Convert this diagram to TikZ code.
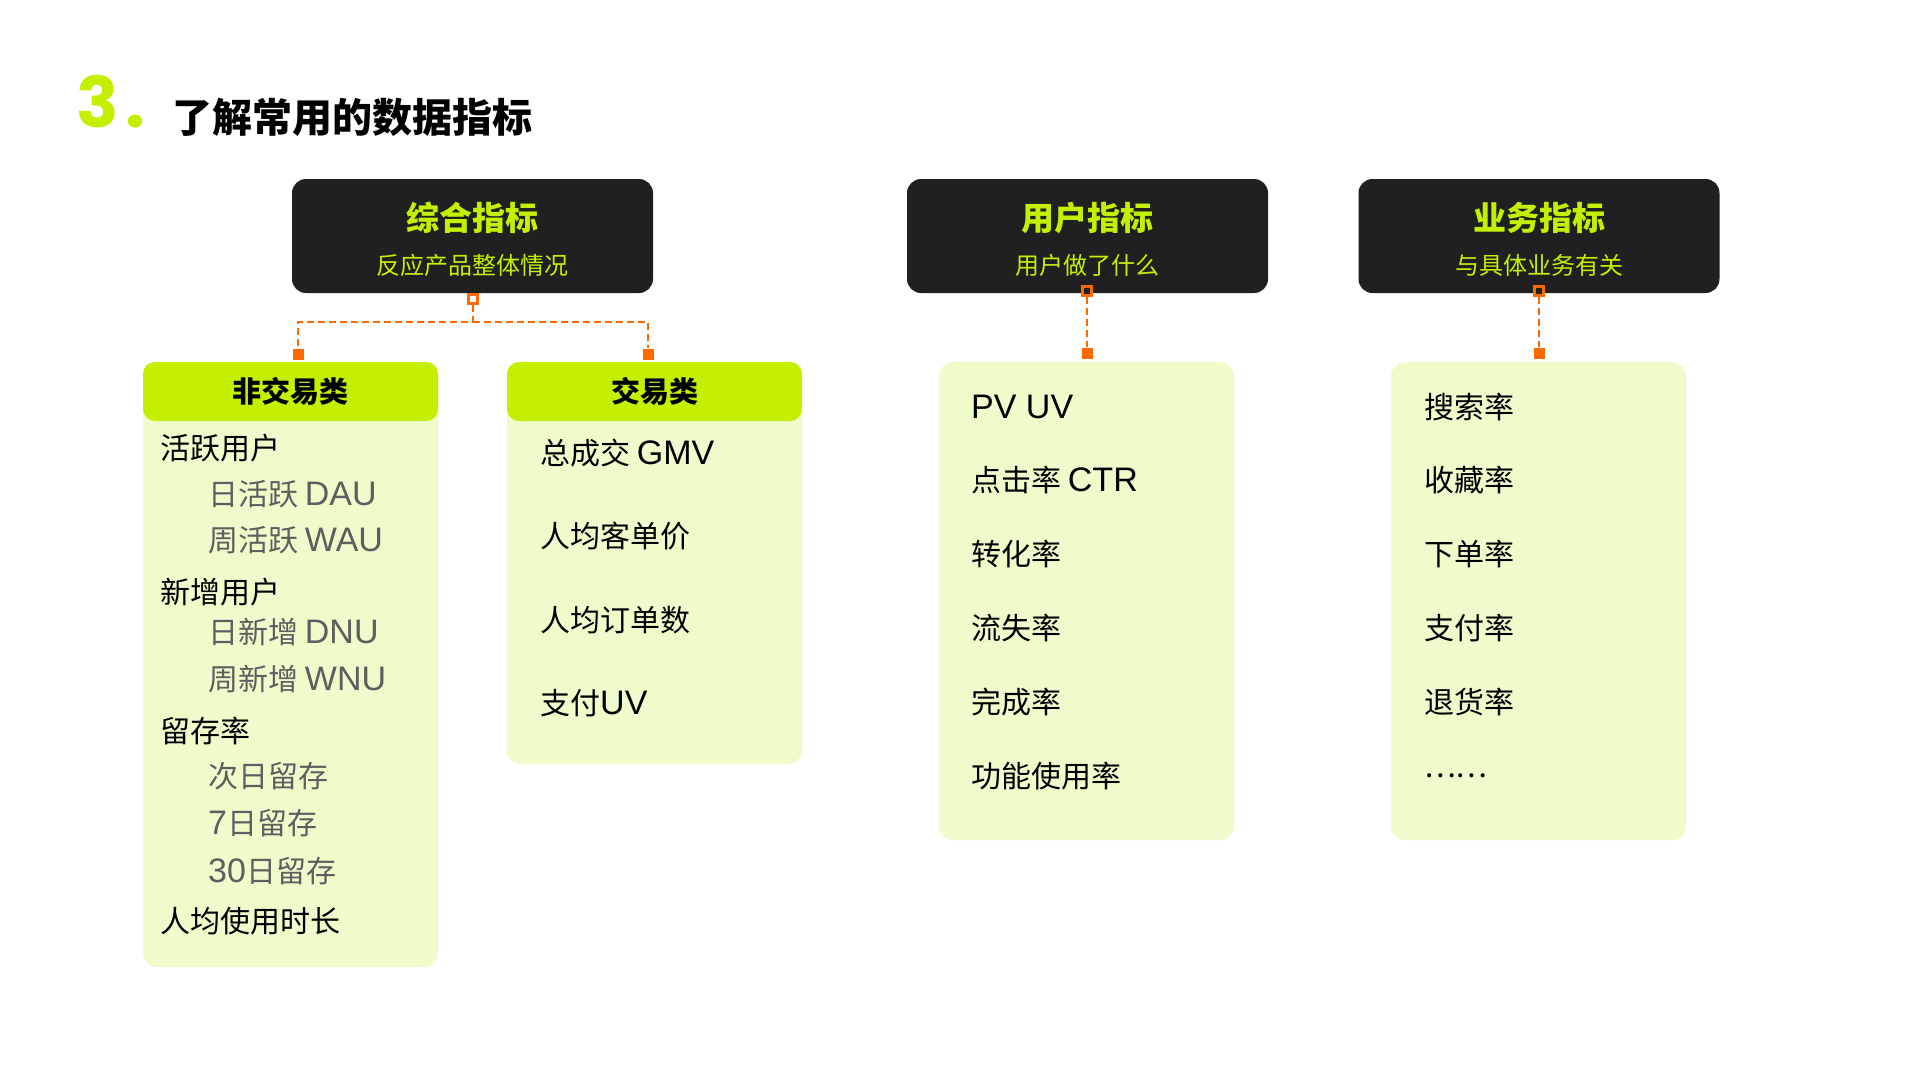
\documentclass[tikz,border=0pt]{standalone}
\usepackage{fontspec}
\setmainfont{Noto Sans CJK SC}
\newfontfamily\numfont{Poppins}
\newfontfamily\latf{Liberation Sans}
\newcommand\latn[1]{{\latf\fontsize{34}{34}\selectfont #1}}
\usetikzlibrary{positioning}
\definecolor{lime}{HTML}{C2F000}
\definecolor{pale}{HTML}{F0FBCC}
\definecolor{dark}{HTML}{202020}
\definecolor{orng}{HTML}{FF6A00}
\definecolor{gry}{HTML}{5E5E5E}
\begin{document}
\begin{tikzpicture}[x=1pt,y=-1pt,
  hdrbox/.style={fill=dark, rounded corners=14pt, minimum width=361pt, minimum height=114pt, inner sep=0pt},
  hdrtitle/.style={inner sep=0pt, text=lime, font=\bfseries\fontsize{33}{33}\selectfont},
  hdrsub/.style={inner sep=0pt, text=lime, font=\fontsize{24}{24}\selectfont},
  greenhdr/.style={fill=lime, rounded corners=12pt, minimum width=295pt, minimum height=59pt, inner sep=0pt, font=\bfseries\fontsize{29}{29}\selectfont},
  bodybox/.style={fill=pale, rounded corners=14pt, minimum width=295pt, anchor=north, inner sep=0pt},
  item/.style={anchor=west, inner sep=0pt, font=\fontsize{30}{30}\selectfont},
  subitem/.style={item, text=gry},
  conn/.style={draw=orng, line width=2.8pt, dash pattern=on 7pt off 4pt},
  opensq/.style={draw=orng, line width=2.4pt, minimum size=9pt, inner sep=0pt},
  fillsq/.style={fill=orng, minimum size=11pt, inner sep=0pt},
  numstyle/.style={anchor=base west, inner sep=0pt, text=lime, font=\numfont\bfseries\fontsize{70}{70}\selectfont}
]
\useasboundingbox (0,0) rectangle (1920,1080);
\fill[white] (0,0) rectangle (1920,1080);

% title
\node[numstyle] (num) at (76,127) {3};
\node[numstyle] (dot) at (125,127) {.};
\node[anchor=west, inner sep=0pt, font=\bfseries\fontsize{40}{40}\selectfont] (title) at (172,117) {了解常用的数据指标};

% dark header boxes
\node[hdrbox] (b1) at (472.5,236) {};
\node[hdrtitle] (b1t) at (472.5,218) {综合指标};
\node[hdrsub] (b1s) at (472.5,265) {反应产品整体情况};

\node[hdrbox] (b2) at (1087.5,236) {};
\node[hdrtitle] (b2t) at (1087.5,218) {用户指标};
\node[hdrsub] (b2s) at (1087.5,265) {用户做了什么};

\node[hdrbox] (b3) at (1539,236) {};
\node[hdrtitle] (b3t) at (1539,218) {业务指标};
\node[hdrsub] (b3s) at (1539,265) {与具体业务有关};

% green bodies
\node[bodybox, minimum height=605pt] (L1) at (290.5,362) {};
\node[bodybox, minimum height=402pt] (L2) at (654.5,362) {};
\node[bodybox, minimum height=478pt] (L3) at (1086.5,362) {};
\node[bodybox, minimum height=478pt] (L4) at (1538.5,362) {};

\node[greenhdr] (G1) at (290.5,391.5) {非交易类};
\node[greenhdr] (G2) at (654.5,391.5) {交易类};

% connectors
\node[opensq, fill=white] (s1) at (473,299) {};
\node[fillsq] (f1a) at (298,354) {};
\node[fillsq] (f1b) at (648,354) {};
\coordinate (j1) at (473,322);
\draw[conn] (s1.south) -- (j1) -| (f1a.north);
\draw[conn] (j1) -| (f1b.north);

\node[opensq, fill=dark] (s2) at (1087,291) {};
\node[fillsq] (f2) at (1087,353) {};
\draw[conn] (s2.south) -- (f2.north);

\node[opensq, fill=dark] (s3) at (1539,291) {};
\node[fillsq] (f3) at (1539,353) {};
\draw[conn] (s3.south) -- (f3.north);

% list 1
\node[item] (a1) at (160,448) {活跃用户};
\node[subitem] (a2) at (208,494) {日活跃 \latn{DAU}};
\node[subitem] (a3) at (208,540) {周活跃 \latn{WAU}};
\node[item] (a4) at (160,592) {新增用户};
\node[subitem] (a5) at (208,632) {日新增 \latn{DNU}};
\node[subitem] (a6) at (208,679) {周新增 \latn{WNU}};
\node[item] (a7) at (160,731) {留存率};
\node[subitem] (a8) at (208,776) {次日留存};
\node[subitem] (a9) at (208,823) {\latn{7}日留存};
\node[subitem] (a10) at (208,871) {\latn{30}日留存};
\node[item] (a11) at (160,921) {人均使用时长};

% list 2
\node[item] (c1) at (540,453) {总成交 \latn{GMV}};
\node[item] (c2) at (540,536) {人均客单价};
\node[item] (c3) at (540,620) {人均订单数};
\node[item] (c4) at (540,703) {支付\latn{UV}};

% list 3
\node[item] (d1) at (971,407) {\latn{PV UV}};
\node[item] (d2) at (971,480) {点击率 \latn{CTR}};
\node[item] (d3) at (971,554) {转化率};
\node[item] (d4) at (971,628) {流失率};
\node[item] (d5) at (971,702) {完成率};
\node[item] (d6) at (971,776) {功能使用率};

% list 4
\node[item] (e1) at (1424,407) {搜索率};
\node[item] (e2) at (1424,480) {收藏率};
\node[item] (e3) at (1424,554) {下单率};
\node[item] (e4) at (1424,628) {支付率};
\node[item] (e5) at (1424,702) {退货率};
\node[item] (e6) at (1424,776) {……};
\end{tikzpicture}
\end{document}
